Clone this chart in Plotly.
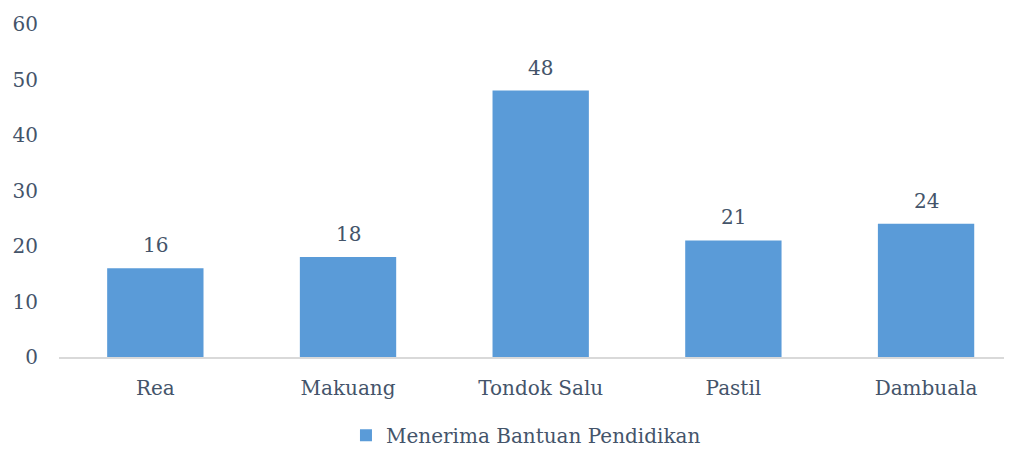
import plotly.graph_objects as go

categories = ["Rea", "Makuang", "Tondok Salu", "Pastil", "Dambuala"]
values = [16, 18, 48, 21, 24]
series_name = "Menerima Bantuan Pendidikan"
y_ticks = [0, 10, 20, 30, 40, 50, 60]

txt = "#44546a"
font_family = "DejaVu Serif"
fs = 20

fig = go.Figure()
fig.add_trace(go.Bar(
    x=categories, y=values, name=series_name,
    marker=dict(color="#5a9bd8", line=dict(width=0)),
    width=0.5,
    showlegend=True,
))
for c, v in zip(categories, values):
    fig.add_annotation(x=c, y=v, text=str(v), showarrow=False, yanchor="bottom",
                       yshift=9, font=dict(size=fs, color=txt, family=font_family))
fig.update_layout(
    width=1004, height=442,
    margin=dict(l=51, r=0, t=16, b=93, autoexpand=False),
    paper_bgcolor="white", plot_bgcolor="white",
    font=dict(family=font_family, size=fs, color=txt),
    xaxis=dict(range=[-0.5, 4.446], showline=True, linecolor="#d9d9d9", linewidth=1.5,
               ticks="", showgrid=False, automargin=False, ticklabelstandoff=12,
               tickfont=dict(size=fs, color=txt)),
    yaxis=dict(range=[0, 60], tickvals=y_ticks, showgrid=False, zeroline=False,
               showline=False, ticks="", automargin=False, tickfont=dict(size=fs, color=txt),
               ticklabelstandoff=20),
    legend=dict(orientation="h", x=0.49, xanchor="center", y=-0.235, yanchor="middle",
                font=dict(size=fs, color=txt), itemwidth=30, tracegroupgap=0),
    bargap=0.5,
)
fig.write_html("out.html")
